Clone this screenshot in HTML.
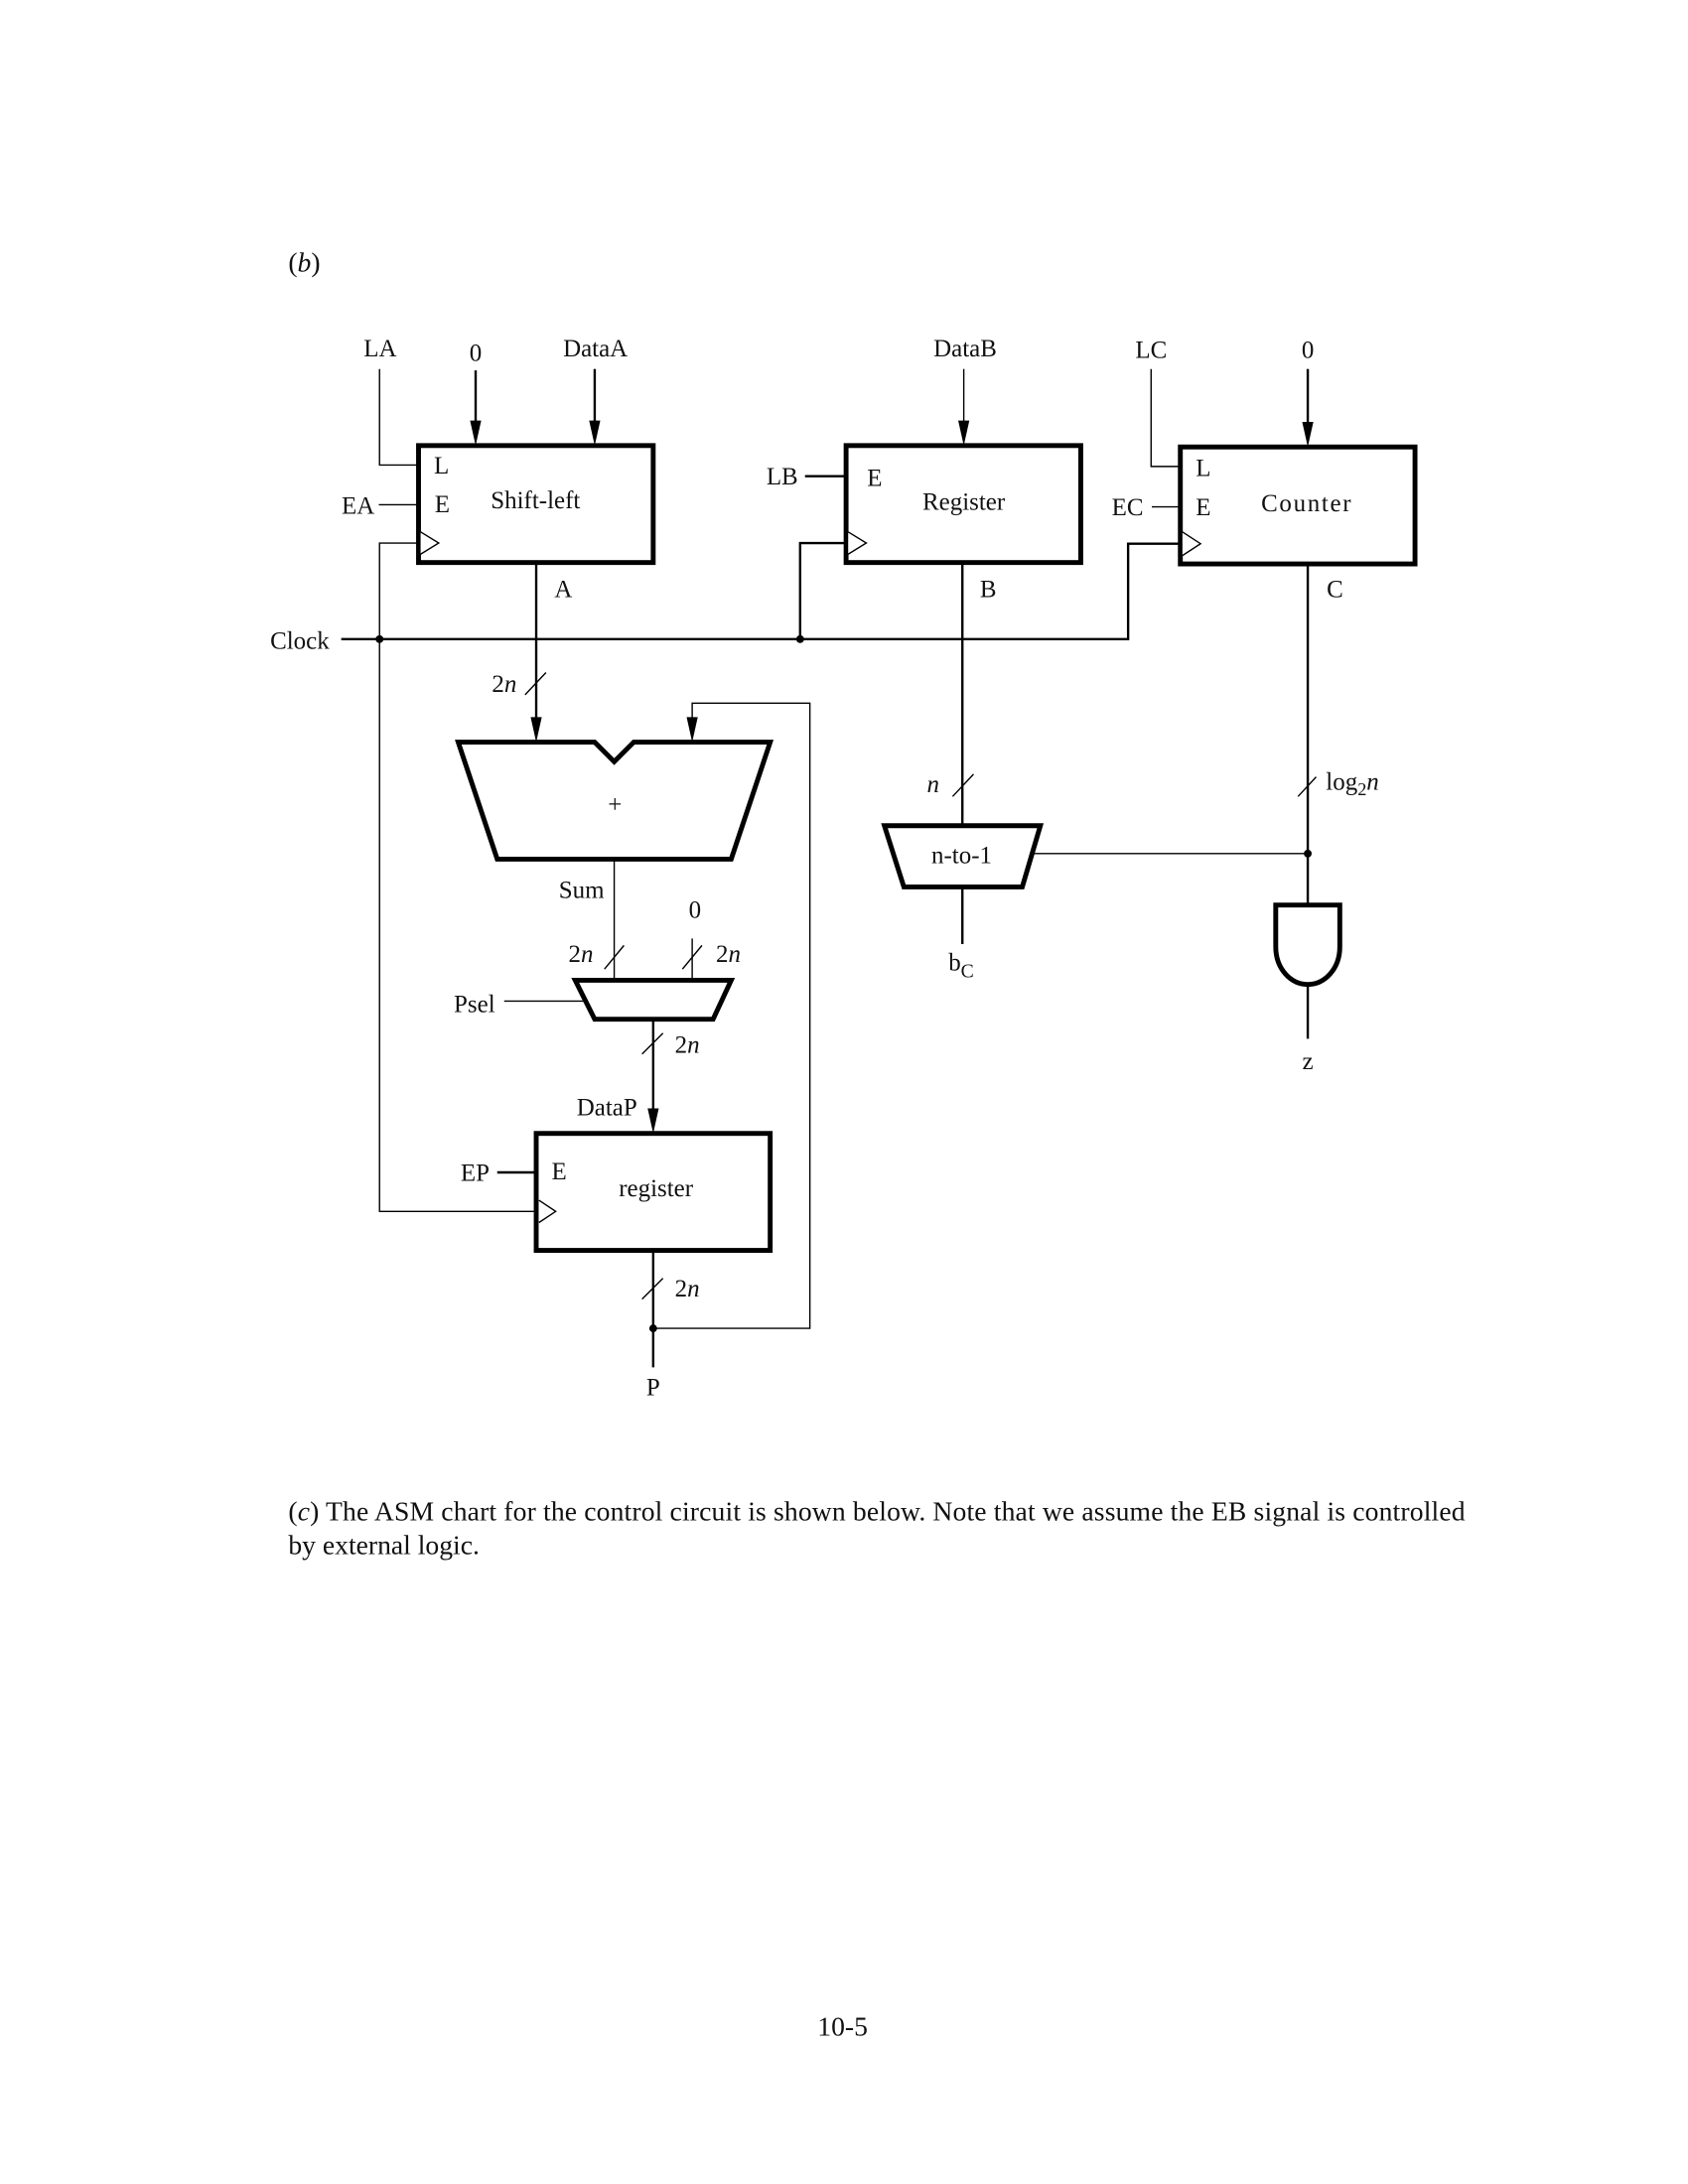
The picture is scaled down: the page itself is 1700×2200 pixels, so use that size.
<!DOCTYPE html>
<html>
<head>
<meta charset="utf-8">
<style>
html,body{margin:0;padding:0;background:#fff;}
svg{display:block;}
text{font-family:"Liberation Serif",serif;font-size:17.8px;fill:#111;}
.m{text-anchor:middle;}
.e{text-anchor:end;}
.b{font-size:19.7px;}
.t{fill:none;stroke:#000;stroke-width:1;}
.w{fill:none;stroke:#000;stroke-width:1.7;}
.k{fill:#fff;stroke:#000;stroke-width:3.5;stroke-linejoin:miter;}
.c{fill:#fff;stroke:#000;stroke-width:1;}
.h{fill:#000;stroke:none;}
</style>
</head>
<body>
<svg xmlns="http://www.w3.org/2000/svg" width="1700" height="2200" viewBox="0 0 1212 1568.500">
<rect width="1212" height="1568.500" fill="#fff"/>

<!-- wires -->
<path class="t" d="M272.500 265V334H300"/>
<path class="t" d="M272 362.500H300"/>
<path class="w" d="M341.500 266V305"/>
<path class="w" d="M427 265V305"/>
<path class="t" d="M300 390H272.500V870H385"/>
<path class="w" d="M245 459H810V390.500H847"/>
<path class="w" d="M578 342H607"/>
<path class="t" d="M692 265V305"/>
<path class="w" d="M607 390H574.500V459"/>
<path class="t" d="M826.500 265V335H847"/>
<path class="t" d="M827 364H847"/>
<path class="w" d="M939 265V305"/>
<path class="w" d="M385 404V520"/>
<path class="w" d="M691 404V593"/>
<path class="w" d="M939 405V650"/>
<path class="t" d="M736 613H939"/>
<path class="t" d="M497 520V505H581.500V954H469"/>
<path class="t" d="M441 617V704"/>
<path class="t" d="M497 674V704"/>
<path class="t" d="M362 719H420"/>
<path class="w" d="M469 732V800"/>
<path class="w" d="M469 898V982"/>
<path class="w" d="M691 637V678"/>
<path class="w" d="M939 707V746"/>
<path class="w" d="M357 842H385"/>

<!-- bus slashes -->
<path class="t" d="M377 499L392 483M684 572L699 556M932 572L945 558M434 696L448 679M490 696L504 679M461 757L476 742M461 933L476 918"/>

<!-- arrowheads -->
<path class="h" d="M341.500 320L337.500 302H345.500Z"/>
<path class="h" d="M427 320L423 302H431Z"/>
<path class="h" d="M692 320L688 302H696Z"/>
<path class="h" d="M939 321L935 303H943Z"/>
<path class="h" d="M385 533L381 515H389Z"/>
<path class="h" d="M497 533L493 515H501Z"/>
<path class="h" d="M469 814L465 796H473Z"/>

<!-- dots -->
<circle class="h" cx="272.500" cy="459" r="2.800"/>
<circle class="h" cx="574.500" cy="459" r="2.800"/>
<circle class="h" cx="939" cy="613" r="2.800"/>
<circle class="h" cx="469" cy="954" r="2.800"/>

<!-- blocks -->
<rect class="k" x="300.500" y="320" width="168.500" height="84"/>
<rect class="k" x="607.500" y="320" width="168.500" height="84"/>
<rect class="k" x="847.500" y="321" width="168.500" height="84"/>
<rect class="k" x="385" y="814" width="168" height="84"/>
<path class="k" d="M329 533H427L441 547L455 533H553L525 617H357Z"/>
<path class="k" d="M413 704H525L512 732H427Z"/>
<path class="k" d="M635 593H747L734 637H649Z"/>
<path class="k" d="M916 650H962V680C962 696 951 707 939 707C927 707 916 696 916 680Z"/>

<!-- clock triangles -->
<path class="c" d="M302 382L315 390L302 398"/>
<path class="c" d="M609 382L622 390L609 398"/>
<path class="c" d="M849 382L862 390.500L849 399"/>
<path class="c" d="M387 862L399 870L387 878"/>

<!-- labels -->
<text class="b" x="207" y="195">(<tspan font-style="italic">b</tspan>)</text>
<text class="m" x="273" y="256">LA</text>
<text class="m" x="341.500" y="259">0</text>
<text class="m" x="427.500" y="256">DataA</text>
<text class="m" x="693" y="256">DataB</text>
<text class="m" x="826.500" y="257">LC</text>
<text class="m" x="939" y="257">0</text>
<text class="m" x="317" y="340">L</text>
<text class="m" x="317.500" y="368">E</text>
<text class="e" x="269" y="369">EA</text>
<text class="m" x="384.500" y="365">Shift-left</text>
<text class="e" x="573" y="348">LB</text>
<text class="m" x="628" y="349">E</text>
<text class="m" x="692" y="366">Register</text>
<text class="m" x="864" y="342">L</text>
<text class="m" x="864" y="370">E</text>
<text class="e" x="821" y="370">EC</text>
<text x="905.500" y="367" textLength="64.500" lengthAdjust="spacing">Counter</text>
<text class="m" x="404.500" y="429">A</text>
<text class="m" x="709.500" y="429">B</text>
<text class="m" x="958.500" y="429">C</text>
<text class="e" x="236.500" y="466">Clock</text>
<text class="e" x="371" y="497">2<tspan font-style="italic">n</tspan></text>
<text class="m" x="670" y="569" font-style="italic">n</text>
<text x="952" y="567">log<tspan dy="4" font-size="13">2</tspan><tspan dy="-4" font-style="italic">n</tspan></text>
<text class="m" x="441.500" y="583.500">+</text>
<text class="m" x="690.500" y="620">n-to-1</text>
<text class="m" x="417.500" y="645">Sum</text>
<text class="m" x="499" y="659">0</text>
<text class="e" x="426" y="691">2<tspan font-style="italic">n</tspan></text>
<text x="514" y="691">2<tspan font-style="italic">n</tspan></text>
<text x="681" y="697">b<tspan dy="5" font-size="14">C</tspan></text>
<text class="e" x="355.500" y="727">Psel</text>
<text x="484.500" y="756">2<tspan font-style="italic">n</tspan></text>
<text class="m" x="939" y="768">z</text>
<text class="e" x="457.500" y="801">DataP</text>
<text class="e" x="351.500" y="848">EP</text>
<text class="m" x="401.500" y="847">E</text>
<text class="m" x="471" y="859">register</text>
<text x="484.500" y="931">2<tspan font-style="italic">n</tspan></text>
<text class="m" x="469" y="1002">P</text>

<text class="b" x="207" y="1092" textLength="845" lengthAdjust="spacing">(<tspan font-style="italic">c</tspan>) The ASM chart for the control circuit is shown below. Note that we assume the EB signal is controlled</text>
<text class="b" x="207" y="1116">by external logic.</text>
<text class="b m" x="605" y="1462">10-5</text>
</svg>
</body>
</html>
